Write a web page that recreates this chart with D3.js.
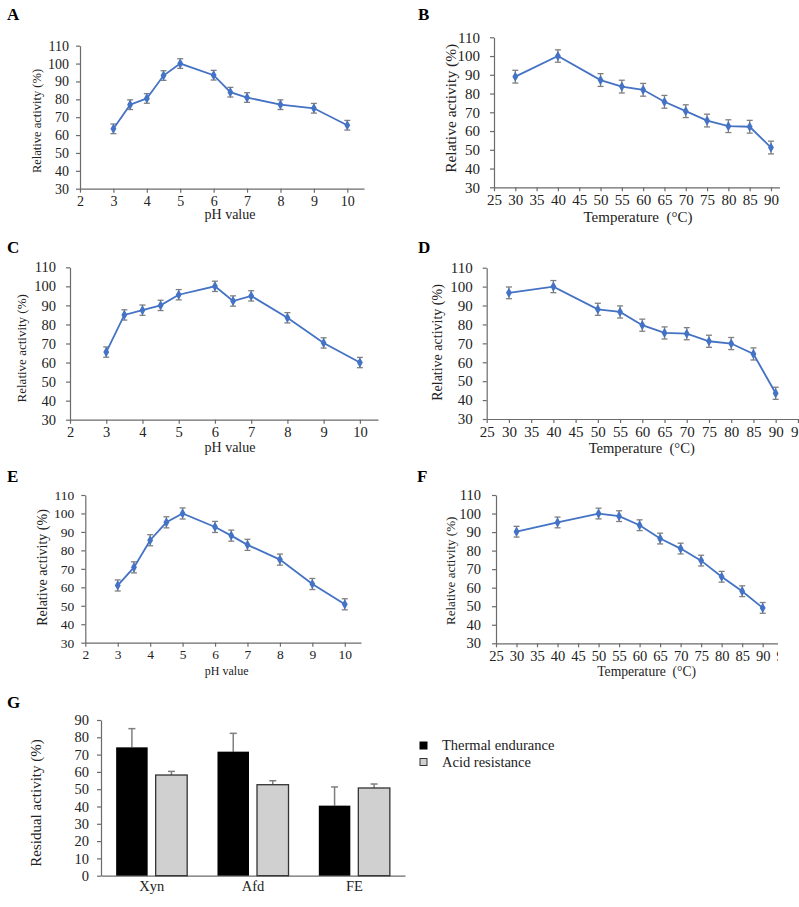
<!DOCTYPE html>
<html><head><meta charset="utf-8">
<script src="https://cdn.jsdelivr.net/npm/d3@7"></script>
<style>
body{margin:0;background:#fff}
svg{display:block}
text{font-family:"Liberation Serif","Times New Roman",serif;fill:#222}
</style>
</head><body>
<svg id="chart" width="799" height="907"></svg>
<script>
// ---------- data ----------
const phValues   = [3, 3.5, 4, 4.5, 5, 6, 6.5, 7, 8, 9, 10];
const tempValues = [30, 40, 50, 55, 60, 65, 70, 75, 80, 85, 90];
const phTicks    = [2, 3, 4, 5, 6, 7, 8, 9, 10];
const tempTicks  = [25, 30, 35, 40, 45, 50, 55, 60, 65, 70, 75, 80, 85, 90, 95];
const activityTicks = [30, 40, 50, 60, 70, 80, 90, 100, 110];

const activityA = [63.5, 77, 80.5, 93.3, 100, 93.5, 84, 81, 77, 75, 65.5];
const errorA    = [2.7, 2.7, 2.7, 2.7, 2.7, 2.7, 2.7, 2.7, 2.7, 2.7, 2.7];
const activityB = [89, 100, 87.2, 83.7, 82, 75.6, 70.6, 65.6, 62.6, 62.3, 51.2];
const errorB    = [3.4, 3.3, 3.4, 3.4, 3.4, 3.4, 3.4, 3.4, 3.4, 3.4, 3.4];
const activityC = [65.5, 85, 87.5, 90, 95.6, 100, 92.3, 95, 83.5, 70.3, 60];
const errorC    = [2.7, 2.7, 2.7, 2.7, 2.7, 2.7, 2.7, 2.7, 2.7, 2.7, 2.7];
const activityD = [96.7, 100, 88, 86.6, 79.6, 75.5, 75.1, 71.1, 69.9, 64.4, 43.6];
const errorD    = [3.1, 3.2, 3.2, 3.2, 3.2, 3.2, 3.2, 3.2, 3.2, 3.2, 3.2];
const activityE = [61, 70.8, 85.5, 95.2, 100, 92.7, 88, 83, 75, 61.8, 50.8];
const errorE    = [3.0, 3.0, 3.0, 3.0, 3.0, 3.0, 3.0, 3.0, 3.0, 3.0, 3.0];
const activityF = [90.2, 95.2, 100, 98.6, 93.7, 86.5, 81.1, 74.6, 65.9, 58.1, 49.1];
const errorF    = [2.9, 2.9, 2.9, 2.9, 2.9, 2.9, 2.9, 2.9, 2.9, 2.9, 2.9];

const categories   = ["Xyn", "Afd", "FE"];
const seriesNames  = ["Thermal endurance", "Acid resistance"];
const thermal      = [74.2, 71.7, 40.5];
const thermalError = [10.8, 10.6, 10.8];
const acid         = [58.2, 52.6, 50.7];
const acidError    = [2.1, 2.3, 2.3];
const residualTicks = [0, 10, 20, 30, 40, 50, 60, 70, 80, 90];

// ---------- drawing ----------
const svg = d3.select("#chart");
const LINE = "#4472C4", ERR = "#7f7f7f", AXIS = "#6b6b6b";

const panels = [
  {id:"A", xs:phValues, ys:activityA, es:errorA, ticks:phTicks, dom:[2,10.5], xr:[80,364], yr:[188.7,45.7],
   letter:[7,20], tick:14, ypad:7, xpad:3, yt:{x:36.7,y:121,s:12.5}, xt:{x:230,y:219,s:14,t:"pH value"}},
  {id:"B", xs:tempValues, ys:activityB, es:errorB, ticks:tempTicks, dom:[25,95], xr:[494,792.3], yr:[187.3,37.3],
   letter:[418,20], tick:15, ypad:10, xpad:3.5, yt:{x:450.3,y:108.3,s:15.5}, xt:{x:638,y:222,s:15,t:"Temperature\u2002(°C)"},
   clip:[400,0,380,230]},
  {id:"C", xs:phValues, ys:activityC, es:errorC, ticks:phTicks, dom:[2,10.5], xr:[70,378], yr:[419.7,267.3],
   letter:[7,253], tick:14.5, ypad:10, xpad:3, yt:{x:21.7,y:348.3,s:13}, xt:{x:230,y:452,s:14,t:"pH value"}},
  {id:"D", xs:tempValues, ys:activityD, es:errorD, ticks:tempTicks, dom:[25,95], xr:[486.7,797.9], yr:[419,267.7],
   letter:[418,253], tick:15, ypad:10, xpad:3, yt:{x:437.3,y:342.5,s:14}, xt:{x:641.7,y:453,s:14.6,t:"Temperature\u2002(°C)"}},
  {id:"E", xs:phValues, ys:activityE, es:errorE, ticks:phTicks, dom:[2,10.5], xr:[85.3,361], yr:[642.7,495],
   letter:[7,482], tick:13.5, ypad:7, xpad:3, yt:{x:42.3,y:567.5,s:14}, xt:{x:226.7,y:675,s:12,t:"pH value"}},
  {id:"F", xs:tempValues, ys:activityF, es:errorF, ticks:tempTicks, dom:[25,95], xr:[496,783.2], yr:[643.3,495],
   letter:[417,482], tick:14.5, ypad:11, xpad:3.5, yt:{x:450.7,y:570.8,s:13}, xt:{x:646.7,y:676,s:13.6,t:"Temperature\u2002(°C)"},
   clip:[400,460,378,230]}
];

const defs = svg.append("defs");

panels.forEach(p => {
  let g = svg.append("g");
  if (p.clip) {
    defs.append("clipPath").attr("id","clip"+p.id)
      .append("rect").attr("x",p.clip[0]).attr("y",p.clip[1]).attr("width",p.clip[2]).attr("height",p.clip[3]);
    g.attr("clip-path","url(#clip"+p.id+")");
  }
  const x = d3.scaleLinear().domain(p.dom).range(p.xr);
  const y = d3.scaleLinear().domain([30,110]).range(p.yr);

  // letter
  svg.append("text").attr("x",p.letter[0]).attr("y",p.letter[1])
    .attr("font-size",17).attr("font-weight","bold").style("fill","#000").text(p.id);

  // axes
  const xa = g.append("g").attr("transform",`translate(0,${p.yr[0]})`)
    .call(d3.axisBottom(x).tickValues(p.ticks).tickFormat(d3.format("d")).tickSize(4).tickSizeOuter(0).tickPadding(p.xpad));
  const ya = g.append("g").attr("transform",`translate(${p.xr[0]},0)`)
    .call(d3.axisLeft(y).tickValues(activityTicks).tickSize(4).tickSizeOuter(0).tickPadding(p.ypad));
  [xa,ya].forEach(a => {
    a.select(".domain").attr("stroke",AXIS).attr("stroke-width",1.2);
    a.selectAll(".tick line").attr("stroke",AXIS).attr("stroke-width",1.2);
    a.selectAll(".tick text").attr("font-size",p.tick).attr("font-family",null).style("fill","#222");
  });

  // titles
  svg.append("text").attr("transform",`translate(${p.yt.x},${p.yt.y}) rotate(-90)`)
    .attr("text-anchor","middle").attr("dominant-baseline","central").attr("font-size",p.yt.s)
    .text("Relative activity (%)");
  g.append("text").attr("x",p.xt.x).attr("y",p.xt.y).attr("text-anchor","middle")
    .attr("font-size",p.xt.s).text(p.xt.t);

  const pts = p.xs.map((v,i)=>({x:v, y:p.ys[i], e:p.es[i]}));

  // error bars
  const eb = g.append("g").attr("stroke",ERR).attr("stroke-width",1.3);
  pts.forEach(d => {
    const cx = x(d.x), t = y(d.y + d.e), b = y(d.y - d.e);
    eb.append("line").attr("x1",cx).attr("x2",cx).attr("y1",t).attr("y2",b);
    eb.append("line").attr("x1",cx-3).attr("x2",cx+3).attr("y1",t).attr("y2",t);
    eb.append("line").attr("x1",cx-3).attr("x2",cx+3).attr("y1",b).attr("y2",b);
  });

  // line
  g.append("path").datum(pts).attr("fill","none").attr("stroke",LINE).attr("stroke-width",1.8)
    .attr("d", d3.line().x(d=>x(d.x)).y(d=>y(d.y)));
  g.selectAll(".mk").data(pts).enter().append("path")
    .attr("transform", d=>`translate(${x(d.x)},${y(d.y)})`)
    .attr("d", d3.symbol().type(d3.symbolDiamond).size(30)).attr("fill",LINE);
});

// ---------- panel G ----------
svg.append("text").attr("x",7).attr("y",708).attr("font-size",17).attr("font-weight","bold").style("fill","#000").text("G");

const gx = d3.scaleBand().domain(categories).range([101,405]).paddingInner(0).paddingOuter(0);
const gs = d3.scaleBand().domain(seriesNames).range([0,gx.bandwidth()]).paddingInner(0.2025).paddingOuter(0.3835);
const gy = d3.scaleLinear().domain([0,90]).range([875.7,720]);

const gxa = svg.append("g").attr("transform","translate(0,875.7)")
  .call(d3.axisBottom(gx).tickSize(0).tickSizeOuter(0).tickPadding(5));
const gya = svg.append("g").attr("transform","translate(101,0)")
  .call(d3.axisLeft(gy).tickValues(residualTicks).tickSize(4).tickSizeOuter(0).tickPadding(8));
[gxa,gya].forEach(a => {
  a.select(".domain").attr("stroke",AXIS).attr("stroke-width",1.2);
  a.selectAll(".tick line").attr("stroke",AXIS).attr("stroke-width",1.2);
  a.selectAll(".tick text").attr("font-size",14.5).attr("font-family",null).style("fill","#222");
});

svg.append("text").attr("transform","translate(36,803) rotate(-90)")
  .attr("text-anchor","middle").attr("dominant-baseline","central").attr("font-size",15)
  .text("Residual activity (%)");

const barData = [];
categories.forEach((c,i) => {
  barData.push({c, s:seriesNames[0], v:thermal[i], e:thermalError[i]});
  barData.push({c, s:seriesNames[1], v:acid[i], e:acidError[i]});
});
const fills = {"Thermal endurance":"#000", "Acid resistance":"#d0d0d0"};

const bars = svg.append("g");
barData.forEach(d => {
  const bx = gx(d.c) + gs(d.s), w = gs.bandwidth();
  const cx = bx + w/2, top = gy(d.v), et = gy(d.v + d.e);
  bars.append("line").attr("x1",cx).attr("x2",cx).attr("y1",top).attr("y2",et)
    .attr("stroke",ERR).attr("stroke-width",1.5);
  bars.append("line").attr("x1",cx-3.5).attr("x2",cx+3.5).attr("y1",et).attr("y2",et)
    .attr("stroke",ERR).attr("stroke-width",1.5);
  bars.append("rect").attr("x",bx).attr("y",top).attr("width",w).attr("height",gy(0)-top)
    .attr("fill",fills[d.s])
    .attr("stroke", d.s === seriesNames[1] ? "#333" : "none").attr("stroke-width",1.3);
});

// legend
const lg = svg.append("g");
seriesNames.forEach((s,i) => {
  lg.append("rect").attr("x",420).attr("y",742 + i*16.5).attr("width",7).attr("height",7)
    .attr("fill",fills[s]).attr("stroke", i ? "#333" : "#000").attr("stroke-width",1);
  lg.append("text").attr("x",442).attr("y",750 + i*16.5).attr("font-size",14.5).text(s);
});
</script>
</body></html>
